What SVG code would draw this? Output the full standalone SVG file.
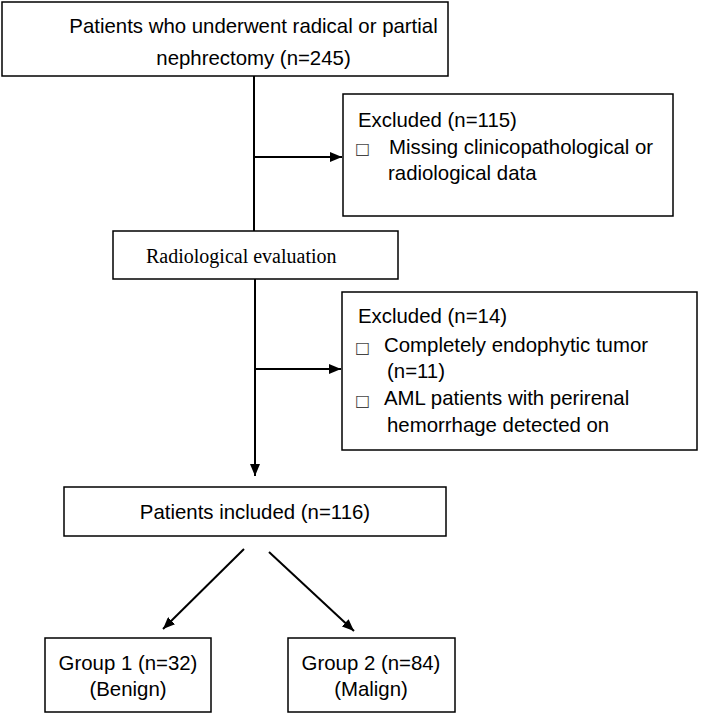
<svg xmlns="http://www.w3.org/2000/svg" width="708" height="715" viewBox="0 0 708 715">
<style>
.box{fill:#fff;stroke:#000;stroke-width:1.5}
.t{font-family:"Liberation Sans",Arial,sans-serif;font-size:20.4px;fill:#000}
.s{font-family:"Liberation Serif","Times New Roman",serif;font-size:20px;fill:#000}
.b{font-family:"DejaVu Sans",sans-serif;font-size:16px;fill:#444}
.ln{stroke:#000;stroke-width:2;fill:none}
</style>
<defs>
<marker id="ah" markerWidth="12" markerHeight="10" refX="12" refY="5" orient="auto" markerUnits="userSpaceOnUse">
<path d="M0,0 L12,5 L0,10 Z" fill="#000"/>
</marker>
</defs>
<g id="connectors">
<line class="ln" x1="254" y1="76" x2="254" y2="231"/>
<line class="ln" x1="254" y1="157" x2="342" y2="157" marker-end="url(#ah)"/>
<line class="ln" x1="255" y1="279" x2="255" y2="476" marker-end="url(#ah)"/>
<line class="ln" x1="255" y1="369" x2="341" y2="369" marker-end="url(#ah)"/>
<line class="ln" x1="244" y1="549" x2="163" y2="629" marker-end="url(#ah)"/>
<line class="ln" x1="269" y1="552" x2="354" y2="631" marker-end="url(#ah)"/>
</g>
<g id="n-start">
<rect class="box" x="2" y="2" width="446" height="74"/>
<text class="t" x="253.5" y="33" text-anchor="middle">Patients who underwent radical or partial</text>
<text class="t" x="253.5" y="65" text-anchor="middle">nephrectomy (n=245)</text>
</g>
<g id="n-excl1">
<rect class="box" x="343" y="94" width="330" height="122"/>
<text class="t" x="358" y="127">Excluded (n=115)</text>
<text class="b" x="355" y="154">□</text>
<text class="t" x="389" y="153.5">Missing clinicopathological or</text>
<text class="t" x="388" y="180">radiological data</text>
</g>
<g id="n-radio">
<rect class="box" x="113" y="231" width="285" height="48"/>
<text class="s" x="146" y="263">Radiological evaluation</text>
</g>
<g id="n-excl2">
<rect class="box" x="342" y="292" width="355" height="158"/>
<text class="t" x="358" y="323">Excluded (n=14)</text>
<text class="b" x="355" y="352.5">□</text>
<text class="t" x="384" y="352">Completely endophytic tumor</text>
<text class="t" x="387" y="378">(n=11)</text>
<text class="b" x="355" y="405.5">□</text>
<text class="t" x="384" y="405">AML patients with perirenal</text>
<text class="t" x="387" y="432">hemorrhage detected on</text>
</g>
<g id="n-incl">
<rect class="box" x="64" y="487" width="382" height="49"/>
<text class="t" x="255" y="519" text-anchor="middle">Patients included (n=116)</text>
</g>
<g id="n-g1">
<rect class="box" x="45" y="638" width="166" height="74"/>
<text class="t" x="128" y="670" text-anchor="middle">Group 1 (n=32)</text>
<text class="t" x="128" y="696" text-anchor="middle">(Benign)</text>
</g>
<g id="n-g2">
<rect class="box" x="288" y="638" width="167" height="74"/>
<text class="t" x="371" y="670" text-anchor="middle">Group 2 (n=84)</text>
<text class="t" x="371" y="696" text-anchor="middle">(Malign)</text>
</g>
</svg>
